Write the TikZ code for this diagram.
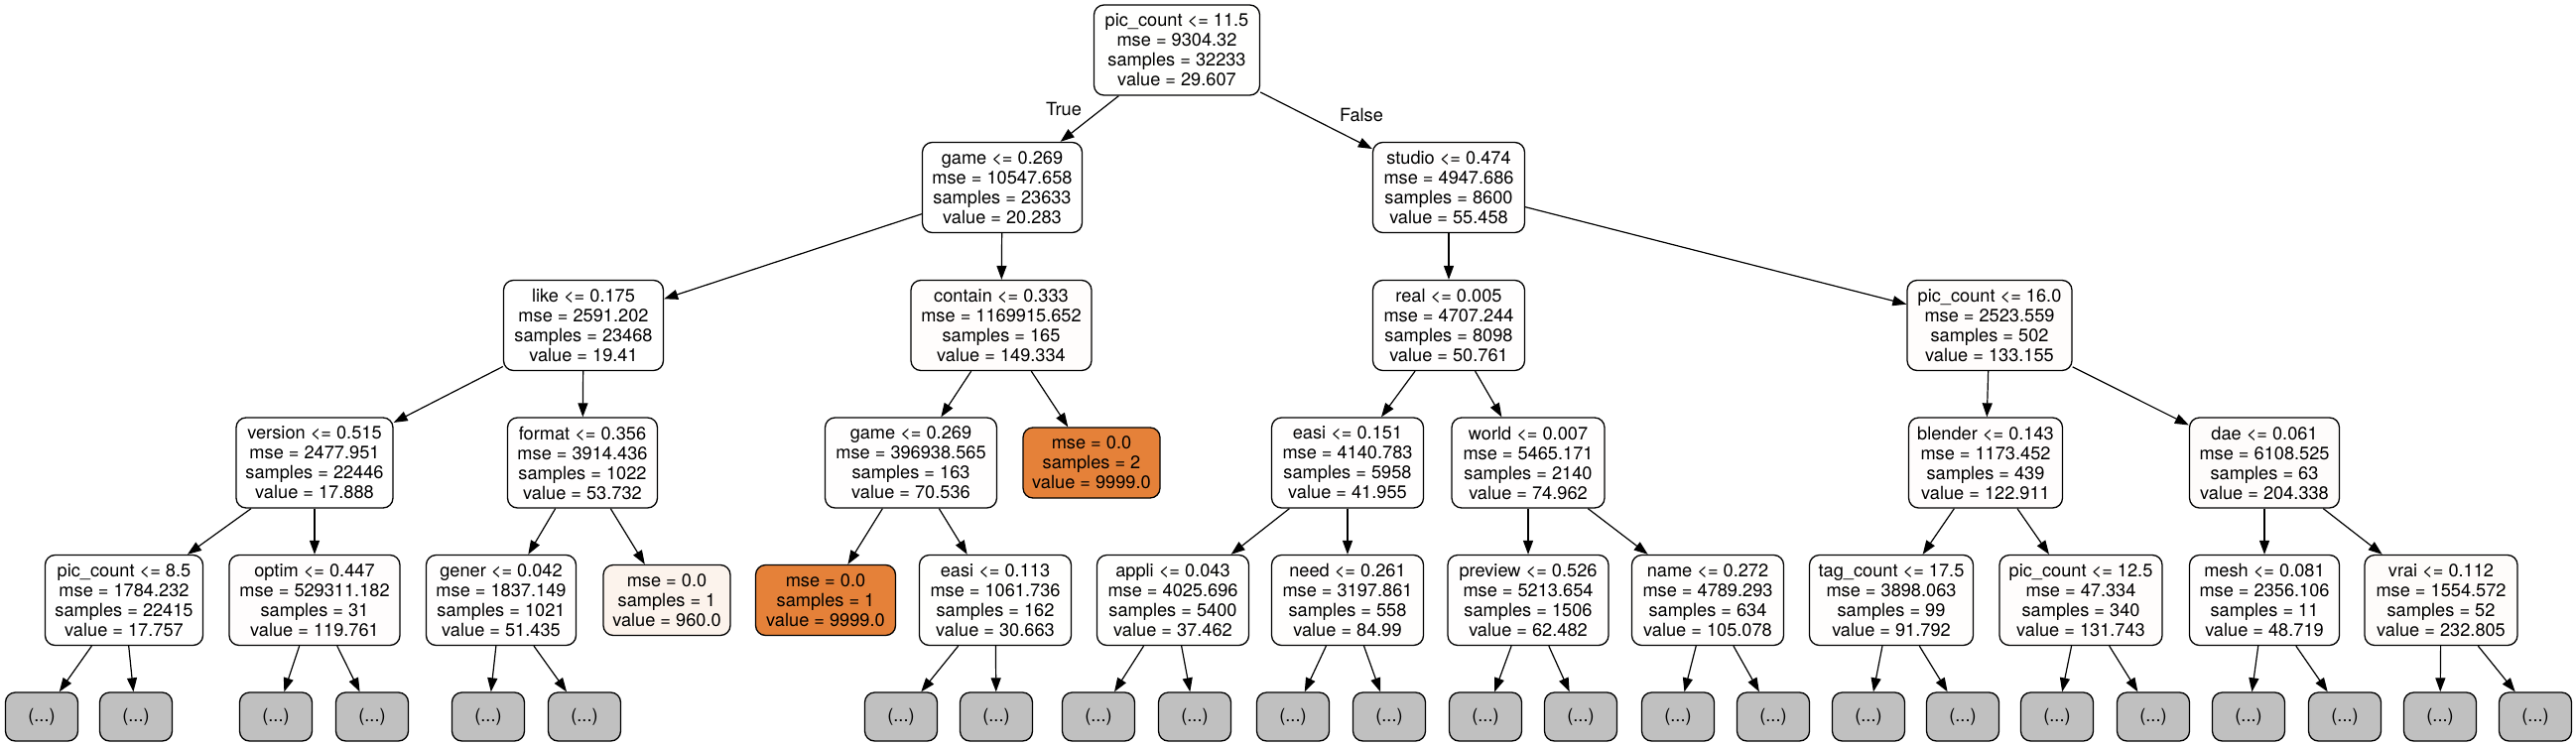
\documentclass[tikz,border=0pt]{standalone}
\usepackage{fontspec}
\setmainfont{TeX Gyre Heros}
\usetikzlibrary{arrows.meta}
\definecolor{orng}{RGB}{229,129,57}
\definecolor{grayleaf}{RGB}{192,192,192}
\begin{document}
\begin{tikzpicture}[x=1pt,y=-1pt,
  every node/.style={font=\fontsize{18.2}{20}\selectfont},
  tnode/.style={draw, rounded corners=10pt, line width=1.3pt, align=center, inner xsep=4pt, inner ysep=0pt, minimum height=91pt, minimum width=#1},
  lnode/.style={tnode=#1, minimum height=71pt},
  gnode/.style={draw, rounded corners=10pt, line width=1.3pt, fill=grayleaf, minimum width=73pt, minimum height=49pt, inner sep=0pt},
  tint/.style={fill=orng!#1!white},
  conn/.style={-{Triangle[length=14pt,width=10pt]}, line width=1.2pt}
]
\useasboundingbox (0,0) rectangle (2596,752);
% level 0
\node[tnode=167pt, tint=0.3] (root) at (1186,50.5) {pic\_count <= 11.5\\mse = 9304.32\\samples = 32233\\value = 29.607};
% level 1
\node[tnode=161pt, tint=0.2] (game) at (1010,189) {game <= 0.269\\mse = 10547.658\\samples = 23633\\value = 20.283};
\node[tnode=153pt, tint=0.55] (studio) at (1460,189) {studio <= 0.474\\mse = 4947.686\\samples = 8600\\value = 55.458};
% level 2
\node[tnode=161pt, tint=0.19] (like) at (588,328) {like <= 0.175\\mse = 2591.202\\samples = 23468\\value = 19.41};
\node[tnode=182pt, tint=1.49] (contain) at (1009,328) {contain <= 0.333\\mse = 1169915.652\\samples = 165\\value = 149.334};
\node[tnode=153pt, tint=0.51] (real) at (1460,328) {real <= 0.005\\mse = 4707.244\\samples = 8098\\value = 50.761};
\node[tnode=166pt, tint=1.33] (pcs) at (2005,328) {pic\_count <= 16.0\\mse = 2523.559\\samples = 502\\value = 133.155};
% level 3
\node[tnode=158pt, tint=0.18] (version) at (317,466.5) {version <= 0.515\\mse = 2477.951\\samples = 22446\\value = 17.888};
\node[tnode=151pt, tint=0.54] (format) at (587,466.5) {format <= 0.356\\mse = 3914.436\\samples = 1022\\value = 53.732};
\node[tnode=173pt, tint=0.71] (game2) at (918,466.5) {game <= 0.269\\mse = 396938.565\\samples = 163\\value = 70.536};
\node[lnode=138pt, fill=orng] (leafA) at (1100,466.5) {mse = 0.0\\samples = 2\\value = 9999.0};
\node[tnode=153pt, tint=0.42] (easiA) at (1358,466.5) {easi <= 0.151\\mse = 4140.783\\samples = 5958\\value = 41.955};
\node[tnode=154pt, tint=0.75] (world) at (1540,466.5) {world <= 0.007\\mse = 5465.171\\samples = 2140\\value = 74.962};
\node[tnode=155pt, tint=1.23] (blender) at (2001,466.5) {blender <= 0.143\\mse = 1173.452\\samples = 439\\value = 122.911};
\node[tnode=151pt, tint=2.04] (dae) at (2282,466.5) {dae <= 0.061\\mse = 6108.525\\samples = 63\\value = 204.338};
% level 4
\node[tnode=159pt, tint=0.18] (pc85) at (125,605) {pic\_count <= 8.5\\mse = 1784.232\\samples = 22415\\value = 17.757};
\node[tnode=172pt, tint=1.2] (optim) at (317,605) {optim <= 0.447\\mse = 529311.182\\samples = 31\\value = 119.761};
\node[tnode=151pt, tint=0.51] (gener) at (505,605) {gener <= 0.042\\mse = 1837.149\\samples = 1021\\value = 51.435};
\node[lnode=128pt, tint=9.6] (leafB) at (672,605) {mse = 0.0\\samples = 1\\value = 960.0};
\node[lnode=141pt, fill=orng] (leafC) at (832,605) {mse = 0.0\\samples = 1\\value = 9999.0};
\node[tnode=153pt, tint=0.31] (easiB) at (1003,605) {easi <= 0.113\\mse = 1061.736\\samples = 162\\value = 30.663};
\node[tnode=153pt, tint=0.37] (appli) at (1182,605) {appli <= 0.043\\mse = 4025.696\\samples = 5400\\value = 37.462};
\node[tnode=153pt, tint=0.85] (need) at (1358,605) {need <= 0.261\\mse = 3197.861\\samples = 558\\value = 84.99};
\node[tnode=162pt, tint=0.62] (preview) at (1540,605) {preview <= 0.526\\mse = 5213.654\\samples = 1506\\value = 62.482};
\node[tnode=153pt, tint=1.05] (name) at (1721,605) {name <= 0.272\\mse = 4789.293\\samples = 634\\value = 105.078};
\node[tnode=165pt, tint=0.92] (tag) at (1906,605) {tag\_count <= 17.5\\mse = 3898.063\\samples = 99\\value = 91.792};
\node[tnode=164pt, tint=1.32] (pc125) at (2097,605) {pic\_count <= 12.5\\mse = 47.334\\samples = 340\\value = 131.743};
\node[tnode=151pt, tint=0.49] (mesh) at (2282,605) {mesh <= 0.081\\mse = 2356.106\\samples = 11\\value = 48.719};
\node[tnode=154pt, tint=2.33] (vrai) at (2460,605) {vrai <= 0.112\\mse = 1554.572\\samples = 52\\value = 232.805};
% level 5 (truncated)
\foreach \p/\x in {pc85/42, pc85/137, optim/278, optim/375, gener/492, gener/589,
  easiB/908, easiB/1004, appli/1107, appli/1204, need/1303, need/1400,
  preview/1497, preview/1593, name/1691, name/1787, tag/1883, tag/1978,
  pc125/2073, pc125/2170, mesh/2266, mesh/2363, vrai/2459, vrai/2555} {
  \node[gnode] (g\x) at (\x,722.5) {(...)};
  \draw[conn] (\p) -- (g\x);
}
% edge labels
\node (ltrue) at (1072,110) {True};
\node (lfalse) at (1372,116) {False};
% edges
\draw[conn] (root) -- (game);
\draw[conn] (root) -- (studio);
\draw[conn] (game) -- (like);
\draw[conn] (game) -- (contain);
\draw[conn] (like) -- (version);
\draw[conn] (like) -- (format);
\draw[conn] (contain) -- (game2);
\draw[conn] (contain) -- (leafA);
\draw[conn] (studio) -- (real);
\draw[conn] (studio) -- (pcs);
\draw[conn] (real) -- (easiA);
\draw[conn] (real) -- (world);
\draw[conn] (pcs) -- (blender);
\draw[conn] (pcs) -- (dae);
\draw[conn] (version) -- (pc85);
\draw[conn] (version) -- (optim);
\draw[conn] (format) -- (gener);
\draw[conn] (format) -- (leafB);
\draw[conn] (game2) -- (leafC);
\draw[conn] (game2) -- (easiB);
\draw[conn] (easiA) -- (appli);
\draw[conn] (easiA) -- (need);
\draw[conn] (world) -- (preview);
\draw[conn] (world) -- (name);
\draw[conn] (blender) -- (tag);
\draw[conn] (blender) -- (pc125);
\draw[conn] (dae) -- (mesh);
\draw[conn] (dae) -- (vrai);
\end{tikzpicture}
\end{document}
